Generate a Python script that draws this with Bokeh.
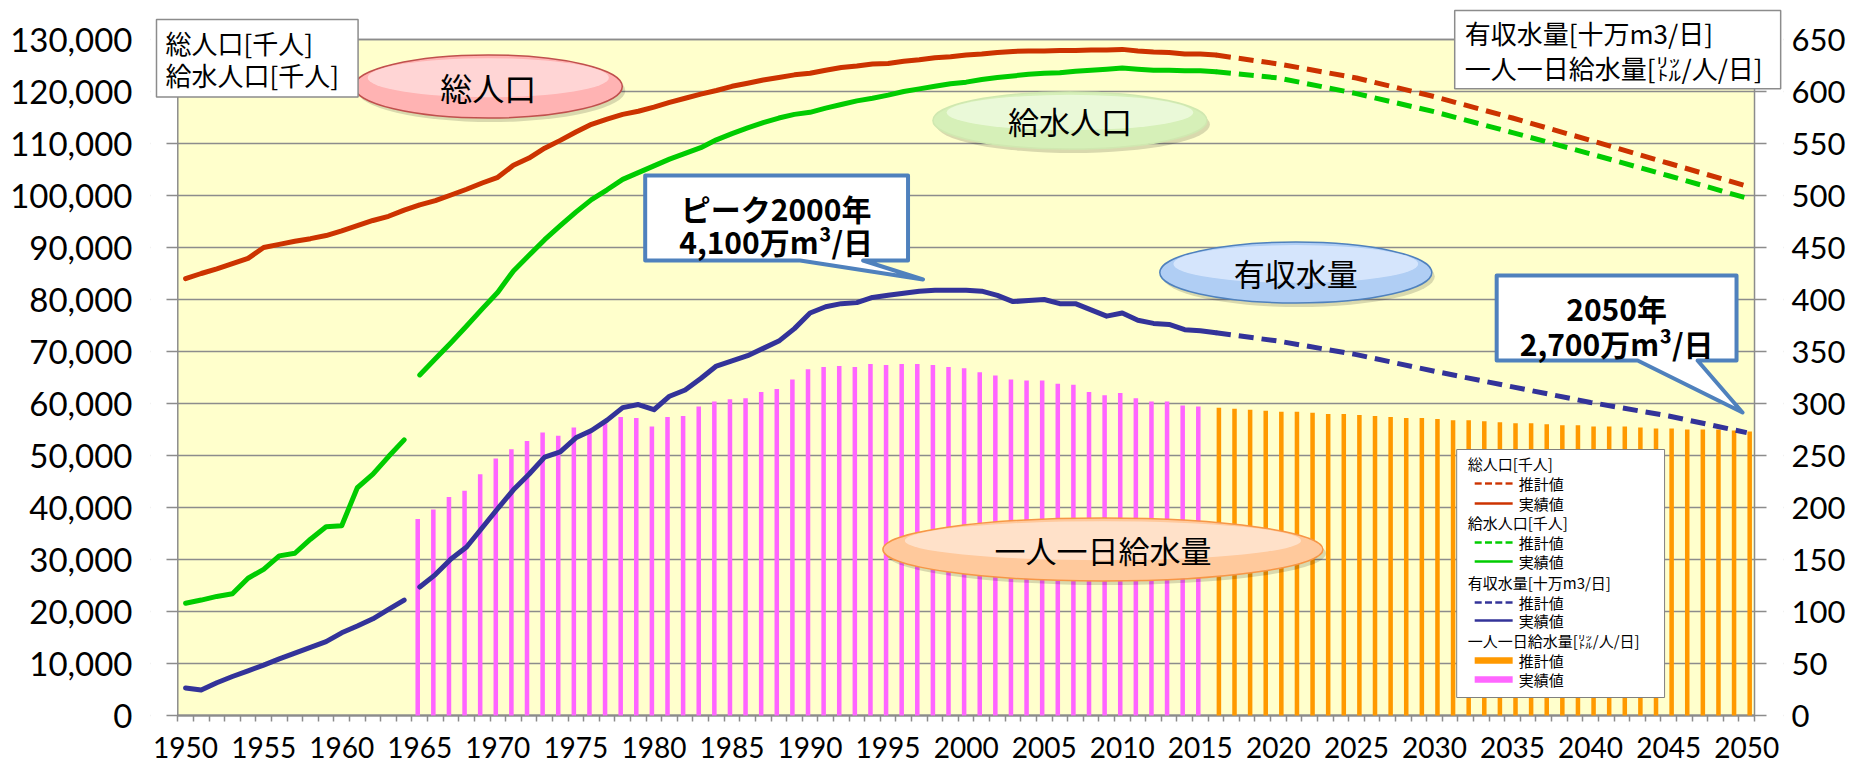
from bokeh.plotting import figure
from bokeh.models import (Range1d, LinearAxis, FixedTicker, NumeralTickFormatter, Label,
                          BoxAnnotation, PolyAnnotation, ColumnDataSource)
from bokeh.transform import dodge
from bokeh.embed import file_html
from bokeh.resources import INLINE

# ------------------------------------------------------------------ data
years_actual = list(range(1950, 2017))
# 総人口 [千人] actual
total_pop_actual = [84000, 85000, 85900, 86900, 87900, 90000, 90600, 91200, 91700, 92300,
                    93200, 94200, 95200, 96000, 97200, 98200, 99000, 100100, 101200, 102400,
                    103500, 105800, 107200, 109100, 110600, 112200, 113700, 114700, 115600, 116200,
                    117000, 117900, 118700, 119500, 120200, 121000, 121600, 122200, 122700, 123200,
                    123500, 124100, 124600, 124900, 125300, 125400, 125800, 126100, 126500, 126700,
                    127000, 127200, 127500, 127700, 127800, 127800, 127900, 127900, 128000, 128000,
                    128100, 127800, 127600, 127500, 127200, 127200, 127000]
# 給水人口 [千人] actual (break between 1964 and 1965)
supply_pop_actual = [21600, 22200, 22900, 23400, 26400, 28100, 30700, 31200, 33900, 36300,
                     36500, 43800, 46400, 49800, 53000, 65500, 68600, 71700, 74900, 78200,
                     81400, 85500, 88500, 91500, 94200, 96800, 99200, 101100, 103100, 104400,
                     105700, 107000, 108100, 109200, 110700, 111900, 113000, 114000, 114900, 115600,
                     116000, 116800, 117500, 118200, 118700, 119300, 120000, 120500, 121000, 121500,
                     121800, 122300, 122700, 123000, 123300, 123500, 123600, 123900, 124100, 124300,
                     124500, 124300, 124100, 124100, 124000, 124000, 123800]
# 有収水量 [十万m3/日] actual (break between 1964 and 1965)
revenue_water_actual = [26.5, 24.5, 31.5, 37.5, 43, 48.5, 54.5, 60, 65.5, 71,
                        79.5, 86, 93, 102, 111, 123.5, 135.5, 150.5, 162, 180.5,
                        199, 217, 232, 248.5, 253.5, 267, 274, 284, 296, 299,
                        294, 307, 313, 324, 336, 341, 346, 353, 360, 372,
                        387, 393, 396, 397, 402, 404, 406, 408, 409, 409,
                        409, 408, 404, 398, 399, 400, 396, 396, 390, 384,
                        387, 380, 377, 376, 371, 370, 368]
series_break_year = 1965

proj_years = [2016, 2020, 2025, 2030, 2035, 2040, 2045, 2050]
total_pop_proj = [127000, 125300, 122600, 119000, 114900, 110600, 106200, 101800]
supply_pop_proj = [123800, 122600, 119600, 116100, 112100, 108000, 103800, 99500]
revenue_water_proj = [368, 360, 347, 331, 316, 301, 288, 272]

# 一人一日給水量 [L/人/日]
percap_years_actual = list(range(1965, 2016))
percap_actual = [189, 198, 210, 216, 232,
                 247, 256, 264, 272, 269, 277, 274, 281, 287, 286,
                 278, 287, 288, 297, 302, 304, 305, 311, 314, 323,
                 333, 335, 336, 335, 338, 337, 338, 338, 337, 335,
                 334, 330, 327, 323, 322, 322, 319, 318, 311, 308,
                 310, 305, 302, 302, 298, 297]
percap_years_proj = list(range(2016, 2051))
percap_proj = [296, 295, 294, 293, 292, 292, 291, 290, 290, 289,
               288, 287, 286, 286, 285, 284, 284, 283, 282, 281,
               281, 280, 279, 279, 278, 278, 278, 277, 276, 276,
               275, 275, 275, 274, 273]

x_tick_years = list(range(1950, 2051, 5))
left_ticks = list(range(0, 130001, 10000))
right_ticks = list(range(0, 651, 50))
YEAR_MIN, YEAR_MAX, LEFT_MAX, RIGHT_MAX = 1950, 2050, 130000, 650

# ------------------------------------------------------------------ styles
RED, GREEN, BLUE = "#CC3300", "#00CC00", "#333399"
PINK, ORANGE = "#FF66FF", "#FF9900"
GRID = "#8C8C8C"
JP = "Noto Sans CJK JP"
NUM = "Lato"

# ------------------------------------------------------------------ geometry helpers
# pixel placement of the plot area; annotations use these to convert to data units
PX_L, PX_R, PX_T, PX_B = 177.3, 1755.0, 39.0, 715.0          # yellow plot area edges
X_PER_PX = (YEAR_MAX - YEAR_MIN + 1) / (PX_R - PX_L)
Y_PER_PX = LEFT_MAX / (PX_B - PX_T)
def ax(px):
    return (YEAR_MIN - 0.5) + (px - PX_L) * X_PER_PX
def ay(py):
    return (PX_B - py) * Y_PER_PX

W, H = 1848, 770
FR_L, FR_R, FR_T, FR_B = 150, 1784, 4, 721   # frame edges (px)
x_start, x_end = ax(FR_L), ax(FR_R)
y_start, y_end = ay(FR_B), ay(FR_T)
ratio = LEFT_MAX / RIGHT_MAX

p = figure(width=W, height=H, output_backend="svg", toolbar_location=None,
           x_range=Range1d(x_start, x_end), y_range=Range1d(y_start, y_end),
           min_border_left=FR_L, min_border_right=W - FR_R,
           min_border_top=FR_T, min_border_bottom=H - FR_B,
           background_fill_color="white", border_fill_color="white",
           outline_line_color=None)
p.extra_y_ranges = {"right": Range1d(y_start / ratio, y_end / ratio)}

# yellow plot area with grey border (drawn beneath the grid)
p.add_layout(BoxAnnotation(left=YEAR_MIN - 0.5, right=YEAR_MAX + 0.5, bottom=0, top=LEFT_MAX,
                           fill_color="#FFFFCC", fill_alpha=1, line_color=GRID, line_alpha=1,
                           line_width=1.5, level="image"))

# axes
xa = p.xaxis[0]
xa.ticker = FixedTicker(ticks=x_tick_years,
                        minor_ticks=[y - 0.5 for y in range(YEAR_MIN, YEAR_MAX + 2)])
xa.axis_line_color = None
xa.major_tick_line_color = None
xa.major_tick_out = 0
xa.major_tick_in = 0
xa.minor_tick_out = 0
xa.minor_tick_in = 6
xa.minor_tick_line_color = GRID
xa.minor_tick_line_width = 1.5
xa.major_label_text_font = NUM
xa.major_label_text_font_size = "28px"
xa.major_label_text_color = "black"
xa.major_label_standoff = 15

ya = p.yaxis[0]
ya.ticker = FixedTicker(ticks=left_ticks)
ya.formatter = NumeralTickFormatter(format="0,0")
ya.axis_line_color = None
ya.major_tick_line_color = None
ya.major_tick_out = 0
ya.major_tick_in = 0
ya.minor_tick_line_color = None
ya.major_label_text_font = NUM
ya.major_label_text_font_size = "33px"
ya.major_label_text_color = "black"
ya.major_label_standoff = FR_L - 132

ra = LinearAxis(y_range_name="right", ticker=FixedTicker(ticks=right_ticks))
ra.axis_line_color = None
ra.major_tick_line_color = None
ra.major_tick_out = 0
ra.major_tick_in = 0
ra.minor_tick_line_color = None
ra.major_label_text_font = NUM
ra.major_label_text_font_size = "31px"
ra.major_label_text_color = "black"
ra.major_label_standoff = 1792 - FR_R
p.add_layout(ra, "right")

p.xgrid.visible = False
p.ygrid.ticker = FixedTicker(ticks=left_ticks)
p.ygrid.grid_line_color = GRID
p.ygrid.grid_line_width = 1.5
# grid lines continue 11-12 px outside the plot area as tick marks; mask the rest
p.add_layout(BoxAnnotation(left=x_start - 1, right=ax(166), bottom=y_start, top=y_end,
                           fill_color="white", fill_alpha=1, line_color=None, level="underlay"))
p.add_layout(BoxAnnotation(left=ax(1767), right=x_end + 1, bottom=y_start, top=y_end,
                           fill_color="white", fill_alpha=1, line_color=None, level="underlay"))

# ------------------------------------------------------------------ bars
src_pa = ColumnDataSource(dict(year=percap_years_actual, v=percap_actual))
src_pp = ColumnDataSource(dict(year=percap_years_proj, v=percap_proj))
p.vbar(x=dodge("year", -0.13), top="v", width=0.29, source=src_pa,
       y_range_name="right", fill_color=PINK, line_color=None)
p.vbar(x=dodge("year", 0.19), top="v", width=0.29, source=src_pp,
       y_range_name="right", fill_color=ORANGE, line_color=None)

# bottom axis line (value 0)
p.add_layout(BoxAnnotation(left=YEAR_MIN - 0.5, right=YEAR_MAX + 0.5, bottom=0, top=0,
                           fill_alpha=0, line_color=GRID, line_alpha=1, line_width=2,
                           level="underlay"))

# ------------------------------------------------------------------ lines
def segments(years, vals, brk):
    a = [(y, v) for y, v in zip(years, vals) if y < brk]
    b = [(y, v) for y, v in zip(years, vals) if y >= brk]
    return [s for s in (a, b) if s]

p.line(years_actual, total_pop_actual, line_color=RED, line_width=5,
       line_join="round", line_cap="round")
for seg in segments(years_actual, supply_pop_actual, series_break_year):
    p.line([s[0] for s in seg], [s[1] for s in seg], line_color=GREEN, line_width=5,
           line_join="round", line_cap="round")
for seg in segments(years_actual, revenue_water_actual, series_break_year):
    p.line([s[0] for s in seg], [s[1] for s in seg], line_color=BLUE, line_width=5,
           line_join="round", line_cap="round", y_range_name="right")

p.line(proj_years, total_pop_proj, line_color=RED, line_width=5, line_dash="15 8")
p.line(proj_years, supply_pop_proj, line_color=GREEN, line_width=5, line_dash="15 8")
p.line(proj_years, revenue_water_proj, line_color=BLUE, line_width=5, line_dash="15 8",
       y_range_name="right")

# ------------------------------------------------------------------ bubbles
def bubble(cx, cy, w, h, fill, top_fill, edge, text, size):
    p.ellipse(x=[ax(cx + 3)], y=[ay(cy + 4)], width=w, height=h, width_units="screen",
              height_units="screen", fill_color="black", fill_alpha=0.15, line_color=None)
    p.ellipse(x=[ax(cx)], y=[ay(cy)], width=w, height=h, width_units="screen",
              height_units="screen", fill_color=fill, line_color=edge, line_width=1.5)
    p.ellipse(x=[ax(cx)], y=[ay(cy - h * 0.14)], width=w * 0.9, height=h * 0.62,
              width_units="screen", height_units="screen", fill_color=top_fill,
              fill_alpha=0.7, line_color=None)
    p.add_layout(Label(x=ax(cx), y=ay(cy), text=text, text_align="center",
                       text_baseline="middle", text_font=JP, text_font_size=size,
                       text_color="black"))

bubble(488, 86, 268, 63, "#FFB3B3", "#FFE4E4", "#C0504D", "総人口", "32px")
bubble(1070, 120, 274, 57, "#D6F0B8", "#F2FCE6", "#D0E8B0", "給水人口", "31px")
bubble(1296, 272, 272, 61, "#B0CEF4", "#E6F0FF", "#4F81BD", "有収水量", "31px")
bubble(1103, 549, 440, 63, "#FFC99C", "#FFEBDD", "#F79646", "一人一日給水量", "31px")

# ------------------------------------------------------------------ callouts
def callout(box, base, tip, lines, cx, ys):
    l, t, r, b = box
    xs = [l, r, r, base[1], tip[0], base[0], l]
    yy = [t, t, b, b, tip[1], b, b]
    p.add_layout(PolyAnnotation(xs=[ax(v) for v in xs], ys=[ay(v) for v in yy],
                                fill_color="white", fill_alpha=1.0, line_color="#4F81BD",
                                line_alpha=1.0, line_width=4, line_join="round"))
    for txt, yv in zip(lines, ys):
        p.add_layout(Label(x=ax(cx), y=ay(yv), text=txt, text_align="center",
                           text_baseline="middle", text_font=JP, text_font_style="bold",
                           text_font_size="30px", text_color="black"))

callout((645, 175, 908, 260), (800, 863), (923, 279),
        ["ピーク2000年", "4,100万m³/日"], 776, [207, 240])
callout((1497, 275, 1737, 360), (1638, 1698), (1743, 412),
        ["2050年", "2,700万m³/日"], 1617, [307, 342])

# ------------------------------------------------------------------ unit boxes
p.add_layout(Label(x=ax(156), y=ay(19), text="総人口[千人]\n給水人口[千人]",
                   text_align="left", text_baseline="top", text_font=JP,
                   text_font_size="26px", text_line_height=0.88, text_color="black",
                   background_fill_color="white", border_line_color=GRID,
                   border_line_width=1.5,
                   padding=dict(left=9, right=19, top=4, bottom=4)))
p.add_layout(Label(x=ax(1455), y=ay(10), text="有収水量[十万m3/日]\n一人一日給水量[㍑/人/日]",
                   text_align="left", text_baseline="top", text_font=JP,
                   text_font_size="26px", text_line_height=0.95, text_color="black",
                   background_fill_color="white", border_line_color=GRID,
                   border_line_width=1.5,
                   padding=dict(left=10, right=18, top=3, bottom=3)))

# ------------------------------------------------------------------ legend (drawn by hand)
p.add_layout(BoxAnnotation(left=ax(1457), right=ax(1665), top=ay(449), bottom=ay(697),
                           fill_color="white", fill_alpha=1.0, line_color="#808080",
                           line_alpha=1.0, line_width=1))
headers = [("総人口[千人]", 463), ("給水人口[千人]", 522),
           ("有収水量[十万m3/日]", 582), ("一人一日給水量[㍑/人/日]", 640)]
for txt, yv in headers:
    p.add_layout(Label(x=ax(1468), y=ay(yv), text=txt, text_align="left",
                       text_baseline="middle", text_font=JP, text_font_size="15px",
                       text_color="black"))
samples = [(RED, "dash", "推計値", 483), (RED, "solid", "実績値", 503),
           (GREEN, "dash", "推計値", 542), (GREEN, "solid", "実績値", 561),
           (BLUE, "dash", "推計値", 602), (BLUE, "solid", "実績値", 620),
           (ORANGE, "thick", "推計値", 660), (PINK, "thick", "実績値", 679)]
for color, kind, txt, yv in samples:
    if kind == "dash":
        for k in range(4):
            x0 = 1475 + k * 10.3
            p.add_layout(BoxAnnotation(left=ax(x0), right=ax(x0 + 7), top=ay(yv - 1.2),
                                       bottom=ay(yv + 1.2), fill_color=color, fill_alpha=1,
                                       line_color=None))
    else:
        hh = 1.2 if kind == "solid" else 3.2
        p.add_layout(BoxAnnotation(left=ax(1475), right=ax(1513), top=ay(yv - hh),
                                   bottom=ay(yv + hh), fill_color=color, fill_alpha=1,
                                   line_color=None))
    p.add_layout(Label(x=ax(1519), y=ay(yv), text=txt, text_align="left",
                       text_baseline="middle", text_font=JP, text_font_size="15px",
                       text_color="black"))

open("out.html", "w").write(file_html(p, INLINE))
